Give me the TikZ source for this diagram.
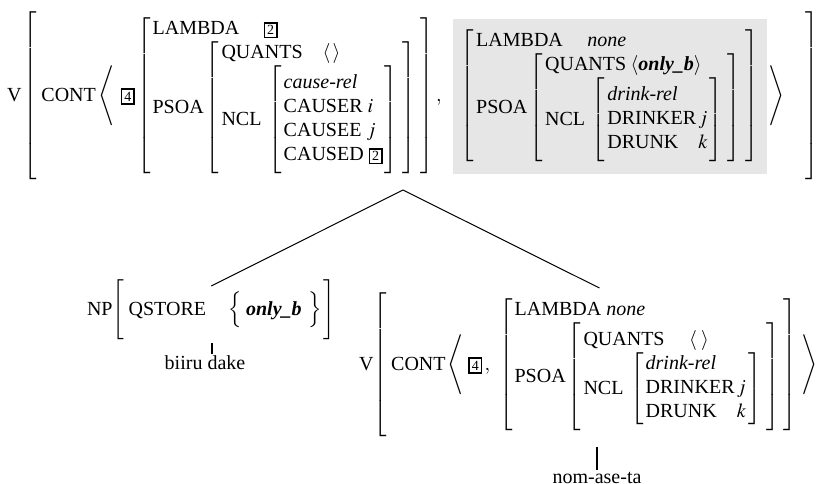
\documentclass[tikz,border=0pt]{standalone}
\usepackage{amsmath}
\usepackage{mathptmx}
\usepackage{fontspec}
\setmainfont{Liberation Serif}
\usetikzlibrary{positioning}

\definecolor{shade}{RGB}{230,230,230}
\newcommand{\tagbox}[1]{{\setlength{\fboxsep}{1pt}\setlength{\fboxrule}{0.75pt}\fbox{\scriptsize #1}}}
\newcommand{\ft}[1]{\mbox{#1}}
\newcommand{\ty}[1]{\mbox{\textit{#1}}}
\newcommand{\onlyb}{\mbox{\textbf{\textit{only\_b}}}}
% invisible strut: height, depth
\newcommand{\pad}[2]{\vrule height #1 depth #2 width 0pt}

\tikzset{
  avm/.style={inner sep=0pt, outer sep=0pt, anchor=west},
  branch/.style={line width=0.5pt},
  tick/.style={line width=1.2pt},
  word/.style={inner sep=1pt}
}

\begin{document}
\begin{tikzpicture}[x=0.5pt, y=-0.5pt]
\useasboundingbox (0,0) rectangle (825,483);

\node[avm](T0) at (7,96) {$\ft{V}\left[\;\ft{CONT}\left\langle\;\,\tagbox{4}\left[\begin{array}{@{\,}l@{\;}}
\ft{LAMBDA}\quad\;\tagbox{2}\\
\ft{PSOA}\left[\begin{array}{@{\,}l@{\;}}
\ft{QUANTS}\quad\langle\,\rangle\\
\ft{NCL}\;\left[\pad{29.5pt}{24.5pt}\begin{array}{@{\,}l@{\,}}\ty{cause-rel}\\ \ft{CAUSER}\ i\\ \ft{CAUSEE}\ j\\ \ft{CAUSED}\ \tagbox{2}\end{array}\right]
\end{array}\right]
\end{array}\right],\;\;{\setlength{\fboxsep}{4pt}\colorbox{shade}{$\displaystyle\pad{37.25pt}{32.25pt}\left[\begin{array}{@{\,}l@{\;}}
\ft{LAMBDA}\quad\;\ty{none}\\
\ft{PSOA}\left[\begin{array}{@{\,}l@{\;}}
\ft{QUANTS}\;\langle\onlyb\rangle\\
\ft{NCL}\;\left[\pad{23.5pt}{18.5pt}\begin{array}{@{\,}l@{\,}l@{\,}}\multicolumn{2}{@{\,}l@{}}{\ty{drink-rel}}\\ \ft{DRINKER}&j\\ \ft{DRUNK}&k\end{array}\right]
\end{array}\right]
\end{array}\right]$}}\,\right\rangle\quad\pad{44.5pt}{39.5pt}\right]$};

\node[avm](N1) at (87,310) {$\ft{NP}\Bigg[\;\ft{QSTORE}\quad\,\Big\{\;\onlyb\;\,\Big\}\,\Bigg]$};

\node[avm](V1) at (359,365) {$\ft{V}\!\left[\;\ft{CONT}\left\langle\;\tagbox{4}\,,\;\,\left[\begin{array}{@{\,}l@{\;}}
\ft{LAMBDA}\ \ty{none}\\
\ft{PSOA}\left[\pad{29.5pt}{24.5pt}\begin{array}{@{\,}l@{\;}}
\ft{QUANTS}\quad\;\langle\;\rangle\\
\ft{NCL}\;\left[\begin{array}{@{\,}l@{\,}l@{\,}}\multicolumn{2}{@{\,}l@{}}{\ty{drink-rel}}\\ \ft{DRINKER}&j\\ \ft{DRUNK}&k\end{array}\right]
\end{array}\right]
\end{array}\right]\;\right\rangle\;\;\pad{38.5pt}{33.5pt}\right]$};

\node[word](W1) at (205,363) {biiru dake};
\node[word](W2) at (597,478) {nom-ase-ta};

\coordinate(R0) at (403,190);
\coordinate(F1) at (212,343);
\coordinate(F2) at (597,447);

\draw[branch] (R0) -- ([yshift=-3pt]N1.north);
\draw[branch] (R0) -- ([yshift=2.5pt]V1.north);
\draw[tick] (F1) -- (F1 |- W1.north);
\draw[tick] (F2) -- (F2 |- W2.north);
\end{tikzpicture}
\end{document}
